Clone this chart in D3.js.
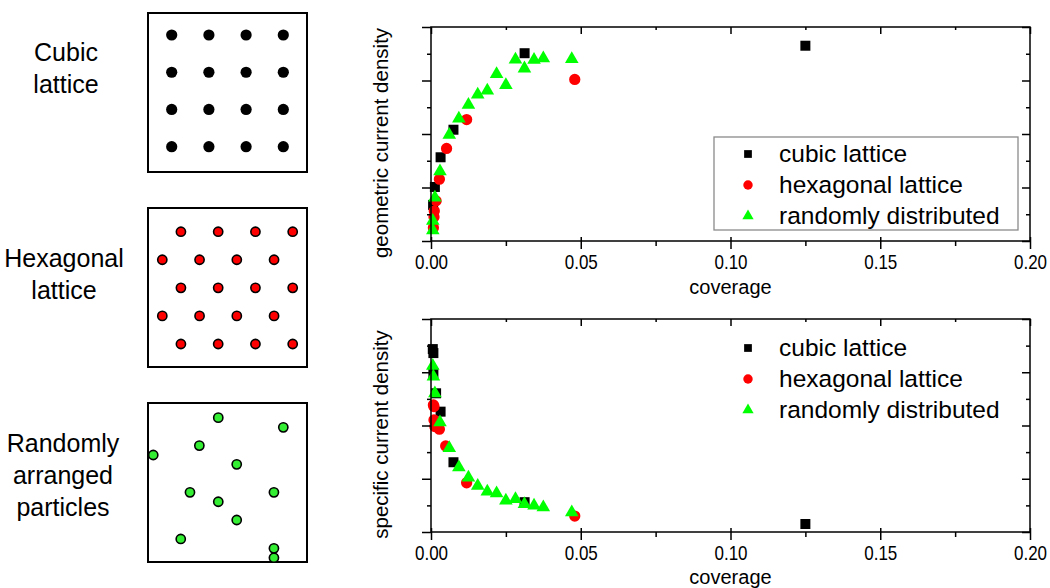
<!DOCTYPE html>
<html>
<head>
<meta charset="utf-8">
<script src="https://cdn.jsdelivr.net/npm/d3@7"></script>
<style>
  html, body { margin: 0; padding: 0; background: #fff; }
  svg { display: block; }
  text { font-family: "Liberation Sans", Arial, sans-serif; fill: #000; }
</style>
</head>
<body>
<svg id="chart" width="1050" height="588"></svg>
<script>
// ---------------- data ----------------
const xTicks = [0, 0.05, 0.10, 0.15, 0.20];
const xMinorTicks = [0.025, 0.075, 0.125, 0.175];
const xTickLabels = ["0.00", "0.05", "0.10", "0.15", "0.20"];
const yMajorTicks = [0, 2, 4, 6, 8];
const yMinorTicks = [1, 3, 5, 7];
const seriesNames = ["cubic lattice", "hexagonal lattice", "randomly distributed"];

// top chart: geometric current density (arbitrary units)
const geoCubicX = [0.125, 0.03125, 0.0075, 0.0032, 0.0013, 0.0007];
const geoCubicY = [7.30, 7.02, 4.16, 3.13, 2.02, 1.35];
const geoHexX = [0.048, 0.0119, 0.0052, 0.0028, 0.0017, 0.0011, 0.0010, 0.0008];
const geoHexY = [6.04, 4.54, 3.46, 2.31, 1.50, 1.12, 0.90, 0.50];
const geoRandX = [0.047, 0.0375, 0.0344, 0.0312, 0.0282, 0.025, 0.0219, 0.0188, 0.0156, 0.0125, 0.0093, 0.0061, 0.0030, 0.0013, 0.0006, 0.0006];
const geoRandY = [6.80, 6.83, 6.77, 6.45, 6.78, 5.83, 6.24, 5.62, 5.47, 5.09, 4.58, 3.97, 2.60, 1.62, 0.75, 0.40];

// bottom chart: specific current density (arbitrary units)
const specCubicX = [0.125, 0.03125, 0.0075, 0.0032, 0.0017, 0.0008, 0.0008, 0.0006];
const specCubicY = [0.30, 1.12, 2.62, 4.52, 5.21, 5.97, 6.72, 6.87];
const specHexX = [0.048, 0.0119, 0.0049, 0.0028, 0.0013, 0.0010, 0.0010, 0.0008];
const specHexY = [0.60, 1.85, 3.23, 3.86, 3.96, 4.21, 4.71, 4.77];
const specRandX = [0.047, 0.0375, 0.0344, 0.0312, 0.0282, 0.025, 0.0219, 0.0188, 0.0156, 0.0125, 0.0093, 0.0061, 0.0030, 0.0013, 0.0008, 0.0006];
const specRandY = [0.74, 0.93, 0.99, 1.05, 1.24, 1.18, 1.45, 1.52, 1.73, 2.04, 2.43, 3.15, 4.12, 5.21, 5.84, 6.24];

// illustration panels (lattice coordinates)
const panelLabels = [["Cubic", "lattice"], ["Hexagonal", "lattice"], ["Randomly", "arranged", "particles"]];
const cubicCols = [0, 1, 2, 3];
const cubicRows = [0, 1, 2, 3];
const hexRowsOdd = [0, 2, 4];      // rows shifted right
const hexRowsEven = [1, 3];
const hexColsOdd = [1, 3, 5, 7];    // half-step column indices
const hexColsEven = [0, 2, 4, 6];
const randomU = [0.442, 0.851, 0.323, 0.033, 0.558, 0.264, 0.792, 0.442, 0.558, 0.206, 0.792, 0.792];
const randomV = [0.092, 0.153, 0.268, 0.327, 0.386, 0.562, 0.562, 0.621, 0.736, 0.855, 0.914, 0.973];

// ---------------- drawing ----------------
const svg = d3.select("#chart");
const colors = ["#000000", "#ff0000", "#00ff00"];
const symbols = [d3.symbolSquare, d3.symbolCircle, d3.symbolTriangle];
const markerSize = [100, 100, 80];
const legendSize = [60, 70, 55];

const xScale = d3.scaleLinear().domain([0, 0.2]).range([431, 1030]);

function drawPanel(top, bottom, yLabel, series, legendY, legendBox, titleGap) {
  const y = d3.scaleLinear().domain([0, 8]).range([bottom, top]);
  const g = svg.append("g");

  // series
  series.forEach((s, i) => {
    const pts = s.x.map((v, k) => [v, s.y[k]]);
    g.append("g").selectAll("path").data(pts).join("path")
      .attr("d", d3.symbol().type(symbols[i]).size(markerSize[i]))
      .attr("transform", d => `translate(${xScale(d[0])},${y(d[1])})`)
      .attr("fill", colors[i]);
  });

  // frame
  g.append("rect").attr("x", xScale(0)).attr("y", top)
    .attr("width", xScale(0.2) - xScale(0)).attr("height", bottom - top)
    .attr("fill", "none").attr("stroke", "#000").attr("stroke-width", 1.5);

  const style = sel => { sel.select(".domain").remove(); sel.selectAll("line").attr("stroke", "#000").attr("stroke-width", 1.5); };

  // bottom axis, major with labels (outward)
  g.append("g").attr("transform", `translate(0,${bottom})`)
    .call(d3.axisBottom(xScale).tickValues(xTicks).tickSize(8).tickPadding(6)
      .tickFormat((d, i) => xTickLabels[i]))
    .call(style)
    .call(s => s.selectAll("text").attr("font-size", 20)
      .attr("font-family", "Liberation Sans, Arial, sans-serif")
      .attr("transform", "scale(0.85,1)"));
  // bottom axis, major inward part
  g.append("g").attr("transform", `translate(0,${bottom})`)
    .call(d3.axisTop(xScale).tickValues(xTicks).tickSize(4).tickFormat(""))
    .call(style);
  // bottom minor
  g.append("g").attr("transform", `translate(0,${bottom})`)
    .call(d3.axisBottom(xScale).tickValues(xMinorTicks).tickSize(5).tickFormat(""))
    .call(style);
  // top frame ticks (inward)
  g.append("g").attr("transform", `translate(0,${top})`)
    .call(d3.axisBottom(xScale).tickValues(xTicks).tickSize(7).tickFormat(""))
    .call(style);
  g.append("g").attr("transform", `translate(0,${top})`)
    .call(d3.axisBottom(xScale).tickValues(xMinorTicks).tickSize(3).tickFormat(""))
    .call(style);
  // left axis (outward)
  g.append("g").attr("transform", `translate(${xScale(0)},0)`)
    .call(d3.axisLeft(y).tickValues(yMajorTicks).tickSize(9).tickFormat(""))
    .call(style);
  g.append("g").attr("transform", `translate(${xScale(0)},0)`)
    .call(d3.axisLeft(y).tickValues(yMinorTicks).tickSize(4).tickFormat(""))
    .call(style);
  // right frame (inward)
  g.append("g").attr("transform", `translate(${xScale(0.2)},0)`)
    .call(d3.axisLeft(y).tickValues(yMajorTicks).tickSize(8).tickFormat(""))
    .call(style);
  g.append("g").attr("transform", `translate(${xScale(0.2)},0)`)
    .call(d3.axisLeft(y).tickValues(yMinorTicks).tickSize(4).tickFormat(""))
    .call(style);

  // axis titles
  g.append("text").attr("x", (xScale(0) + xScale(0.2)) / 2).attr("y", bottom + titleGap)
    .attr("text-anchor", "middle").attr("font-size", 20).text("coverage");
  g.append("text").attr("transform", `translate(388,${(top + bottom) / 2 + 9}) rotate(-90)`)
    .attr("text-anchor", "middle").attr("font-size", 20.5).text(yLabel);

  // legend
  if (legendBox) {
    g.append("rect").attr("x", 714).attr("y", legendY - 17).attr("width", 304).attr("height", 93)
      .attr("fill", "#fff").attr("stroke", "#8a8a8a").attr("stroke-width", 1.3);
  }
  seriesNames.forEach((name, i) => {
    const ly = legendY + i * 31;
    g.append("path").attr("d", d3.symbol().type(symbols[i]).size(legendSize[i]))
      .attr("transform", `translate(748,${ly})`).attr("fill", colors[i]);
    g.append("text").attr("x", 779).attr("y", ly + 8).attr("font-size", 24.5).text(name);
  });
}

drawPanel(27, 241, "geometric current density",
  [{x: geoCubicX, y: geoCubicY}, {x: geoHexX, y: geoHexY}, {x: geoRandX, y: geoRandY}], 154, true, 53);
drawPanel(319, 532, "specific current density",
  [{x: specCubicX, y: specCubicY}, {x: specHexX, y: specHexY}, {x: specRandX, y: specRandY}], 348, false, 52);

// ---------------- illustration panels ----------------
const boxTops = [13, 208, 403];
const boxLeft = 148, boxSize = 159;

// labels
panelLabels.forEach((lines, i) => {
  const centers = [[66, 52], [64, 258], [63, 443]];
  lines.forEach((t, k) => {
    svg.append("text").attr("x", centers[i][0]).attr("y", centers[i][1] + k * 32 + 9)
      .attr("text-anchor", "middle").attr("font-size", 25).text(t);
  });
});

boxTops.forEach(t => {
  svg.append("rect").attr("x", boxLeft).attr("y", t).attr("width", boxSize).attr("height", boxSize)
    .attr("fill", "none").attr("stroke", "#000").attr("stroke-width", 2);
});

// cubic lattice
const cX = d3.scaleLinear().domain([0, 3]).range([boxLeft + 23.7, boxLeft + 135.3]);
const cY = d3.scaleLinear().domain([0, 3]).range([boxTops[0] + 22, boxTops[0] + 133.7]);
svg.append("g").selectAll("circle")
  .data(d3.cross(cubicCols, cubicRows)).join("circle")
  .attr("cx", d => cX(d[0])).attr("cy", d => cY(d[1])).attr("r", 5.6).attr("fill", "#000");

// hexagonal lattice
const hX = d3.scaleLinear().domain([0, 7]).range([boxLeft + 14.3, boxLeft + 144.7]);
const hY = d3.scaleLinear().domain([0, 4]).range([boxTops[1] + 23.7, boxTops[1] + 136]);
const hexPts = d3.cross(hexColsOdd, hexRowsOdd).concat(d3.cross(hexColsEven, hexRowsEven));
svg.append("g").selectAll("circle").data(hexPts).join("circle")
  .attr("cx", d => hX(d[0])).attr("cy", d => hY(d[1])).attr("r", 4.6)
  .attr("fill", "#ff0000").attr("stroke", "#000").attr("stroke-width", 1.6);

// random
const rX = d3.scaleLinear().domain([0, 1]).range([boxLeft, boxLeft + boxSize]);
const rY = d3.scaleLinear().domain([0, 1]).range([boxTops[2], boxTops[2] + boxSize]);
svg.append("g").selectAll("circle").data(randomU.map((u, i) => [u, randomV[i]])).join("circle")
  .attr("cx", d => rX(d[0])).attr("cy", d => rY(d[1])).attr("r", 4.6)
  .attr("fill", "#33ee33").attr("stroke", "#000").attr("stroke-width", 1.6);
</script>
</body>
</html>
